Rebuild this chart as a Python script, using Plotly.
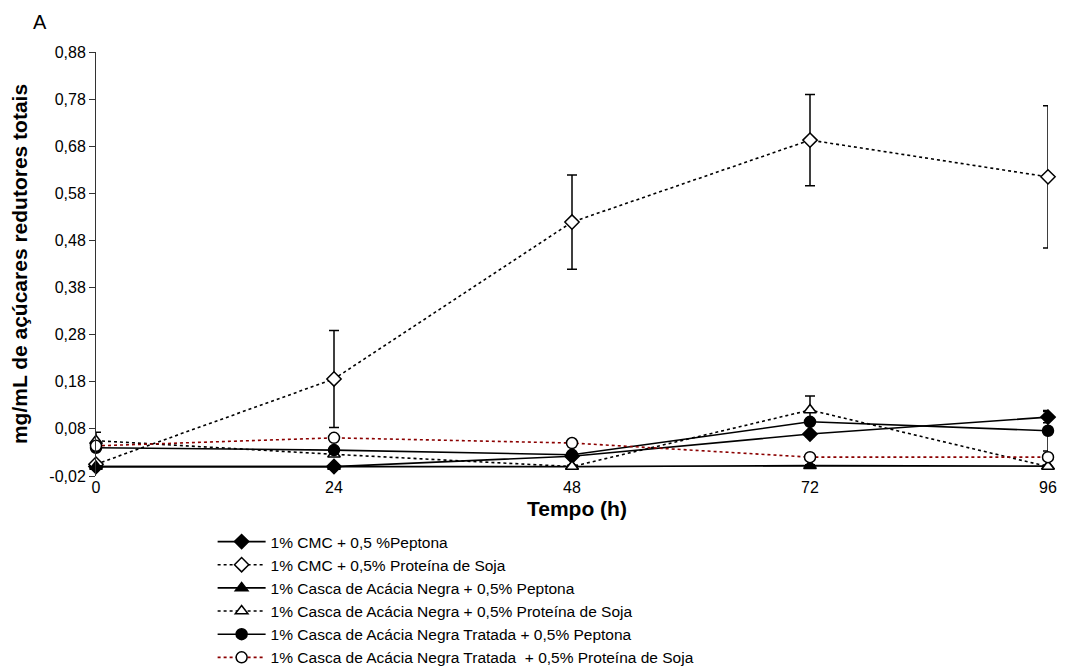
import plotly.graph_objects as go

# ---- data ----
time_h = [0, 24, 48, 72, 96]

cmc_peptona = [0.0, 0.0, 0.022, 0.069, 0.105]
cmc_peptona_err = [0.003, 0.003, 0.004, 0.005, 0.012]

cmc_soja = [0.005, 0.186, 0.519, 0.693, 0.615]
cmc_soja_err = [0.004, 0.103, 0.100, 0.097, 0.151]

casca_peptona = [0.0, 0.0, 0.0, 0.002, 0.001]
casca_peptona_err = [0.002, 0.002, 0.002, 0.002, 0.002]

casca_soja = [0.055, 0.026, 0.0, 0.12, 0.0]
casca_soja_err = [0.018, 0.004, 0.003, 0.03, 0.003]

tratada_peptona = [0.04, 0.035, 0.025, 0.095, 0.076]
tratada_peptona_err = [0.003, 0.004, 0.004, 0.005, 0.043]

tratada_soja = [0.044, 0.061, 0.05, 0.02, 0.02]
tratada_soja_err = [0.003, 0.003, 0.003, 0.003, 0.003]

series_names = [
    "1% CMC + 0,5 %Peptona",
    "1% CMC + 0,5% Proteína de Soja",
    "1% Casca de Acácia Negra + 0,5% Peptona",
    "1% Casca de Acácia Negra + 0,5% Proteína de Soja",
    "1% Casca de Acácia Negra Tratada + 0,5% Peptona",
    "1% Casca de Acácia Negra Tratada  + 0,5% Proteína de Soja",
]

y_tick_vals = [-0.02, 0.08, 0.18, 0.28, 0.38, 0.48, 0.58, 0.68, 0.78, 0.88]
y_tick_labels = ["-0,02", "0,08", "0,18", "0,28", "0,38", "0,48", "0,58", "0,68", "0,78", "0,88"]
x_tick_vals = [0, 24, 48, 72, 96]

# ---- styles ----
styles = [
    dict(vals=cmc_peptona, err=cmc_peptona_err, symbol="diamond", fill="black", color="black", dash="solid"),
    dict(vals=cmc_soja, err=cmc_soja_err, symbol="diamond", fill="white", color="black", dash="dot"),
    dict(vals=casca_peptona, err=casca_peptona_err, symbol="triangle-up", fill="black", color="black", dash="solid"),
    dict(vals=casca_soja, err=casca_soja_err, symbol="triangle-up", fill="white", color="black", dash="dot"),
    dict(vals=tratada_peptona, err=tratada_peptona_err, symbol="circle", fill="black", color="black", dash="solid"),
    dict(vals=tratada_soja, err=tratada_soja_err, symbol="circle", fill="white", color="#8b0000", dash="dot"),
]

fig = go.Figure()
for name, st in zip(series_names, styles):
    fig.add_trace(go.Scatter(
        x=time_h, y=st["vals"], name=name, mode="lines+markers",
        line=dict(color=st["color"], width=1.6, dash=st["dash"]),
        marker=dict(symbol=st["symbol"], size=11, color=st["fill"],
                    line=dict(color="black", width=1.5)),
        error_y=dict(type="data", array=st["err"], visible=True,
                     color="black", thickness=1.5, width=5),
        cliponaxis=False,
    ))

# page body has an 8px default margin, so the figure is 8px smaller and offset
fig.update_layout(
    width=1058, height=660,
    margin=dict(l=88, r=18, t=44, b=192, autoexpand=False),
    plot_bgcolor="white", paper_bgcolor="white",
    font=dict(family="Liberation Sans, Arial, sans-serif", color="black", size=16),
    showlegend=True,
    legend=dict(x=0.1225, y=-0.1156, xanchor="left", yanchor="top",
                font=dict(size=15.5), itemwidth=48, tracegroupgap=0,
                bgcolor="rgba(0,0,0,0)"),
    xaxis=dict(range=[0, 96], tickvals=x_tick_vals, showgrid=False,
               zeroline=False, showline=False, ticks="", automargin=False,
               tickfont=dict(size=16)),
    yaxis=dict(range=[-0.02, 0.88], tickvals=y_tick_vals, ticktext=y_tick_labels,
               showgrid=False, showline=True, linecolor="#333", linewidth=1,
               ticks="outside", ticklen=6, tickcolor="#333", automargin=False,
               zeroline=True, zerolinecolor="#777", zerolinewidth=1,
               tickfont=dict(size=16),
               title=dict(text="<b>mg/mL de açúcares redutores totais</b>",
                          font=dict(size=21), standoff=19)),
    annotations=[
        dict(text="<b>Tempo (h)</b>", xref="paper", yref="paper",
             x=0.505, y=-0.076, xanchor="center", yanchor="middle",
             showarrow=False, font=dict(size=21)),
        dict(text="A", xref="paper", yref="paper",
             x=(32 - 88) / 952, y=(468 - 14) / 424, xanchor="center", yanchor="middle",
             showarrow=False, font=dict(size=20)),
    ],
)

fig.write_html("out.html")
